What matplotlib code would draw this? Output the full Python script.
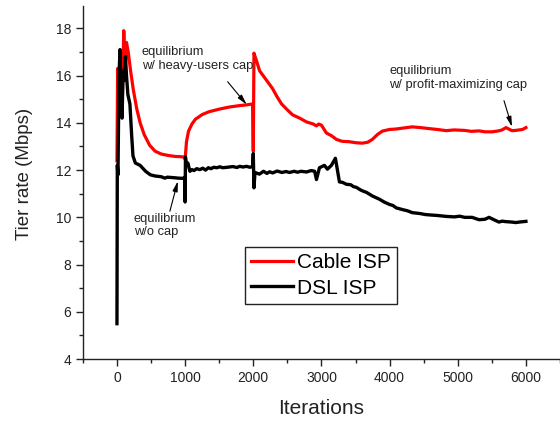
import matplotlib
matplotlib.use("Agg")
import matplotlib.pyplot as plt
from matplotlib.ticker import MultipleLocator

plt.rcParams['font.family'] = ['Liberation Sans', 'DejaVu Sans']

# ---- data ----
cable_x = [0, 10, 30, 55, 80, 100, 120, 140, 165, 200, 240, 290, 340, 400, 480, 560, 650, 750, 850, 920, 995,
           1000, 1020, 1050, 1100, 1150, 1250, 1350, 1500, 1650, 1800, 1900, 1990,
           2000, 2010, 2050, 2093, 2195, 2283, 2350, 2415, 2500, 2576, 2680, 2780, 2880, 2927, 2960, 3000, 3073,
           3150, 3220, 3300, 3410, 3500, 3600, 3680, 3747, 3820, 3893, 4000, 4098, 4200, 4332, 4450, 4600,
           4700, 4830, 4950, 5100, 5200, 5312, 5400, 5503, 5600, 5650, 5708, 5760, 5795, 5850, 5900, 5950, 6000]
cable_y = [12.4, 16.3, 15.0, 17.0, 15.2, 17.9, 16.2, 17.4, 17.0, 16.2, 15.4, 14.6, 14.0, 13.5, 13.05, 12.8, 12.68,
           12.62, 12.58, 12.57, 12.55,
           12.45, 13.2, 13.65, 13.95, 14.15, 14.35, 14.47, 14.58, 14.67, 14.73, 14.76, 14.8,
           12.8, 16.95, 16.6, 16.2, 15.8, 15.45, 15.1, 14.8, 14.55, 14.34, 14.2, 14.04, 13.95, 13.87, 13.95, 13.9, 13.57,
           13.45, 13.3, 13.22, 13.2, 13.16, 13.14, 13.18, 13.3, 13.5, 13.65, 13.72, 13.74, 13.78, 13.83, 13.8, 13.75,
           13.72, 13.67, 13.7, 13.68, 13.64, 13.66, 13.62, 13.62, 13.66, 13.7, 13.8, 13.72, 13.67, 13.68, 13.7, 13.72, 13.8]

dsl_x = [0, 5, 15, 30, 45, 60, 75, 90, 110, 125, 140, 160, 190, 215, 235, 270, 340, 420, 490, 560, 650, 700, 740,
         830, 900, 970, 995,
         1000, 1005, 1020, 1040, 1070, 1100, 1130, 1170, 1215, 1260, 1300, 1340, 1380, 1420, 1463, 1510, 1550,
         1620, 1700, 1760, 1800, 1850, 1900, 1950, 1990,
         2000, 2010, 2025, 2090, 2150, 2200, 2240, 2283, 2350, 2420, 2480, 2532, 2600, 2650, 2700, 2780, 2850,
         2900, 2927, 2971, 3044, 3088, 3146, 3205, 3264, 3310, 3366, 3430, 3470, 3512, 3580, 3620, 3659, 3750,
         3849, 3920, 3995, 4050, 4098, 4200, 4260, 4332, 4450, 4520, 4600, 4700, 4830, 4950, 5030, 5100, 5210,
         5312, 5400, 5459, 5530, 5605, 5650, 5700, 5795, 5850, 5900, 6000]
dsl_y = [5.5, 12.2, 11.8, 16.0, 17.1, 15.5, 14.2, 16.2, 15.8, 16.8, 16.0, 15.2, 14.8, 13.5, 12.6, 12.3, 12.2, 11.95,
         11.8, 11.75, 11.72, 11.66, 11.7, 11.68, 11.66, 11.65, 11.7,
         10.65, 12.55, 12.2, 12.3, 11.95, 12.02, 11.98, 12.06, 12.02, 12.08, 12.0, 12.1, 12.06, 12.12, 12.1, 12.14,
         12.1, 12.12, 12.15, 12.11, 12.16, 12.13, 12.16, 12.12, 12.15,
         12.7, 11.25, 11.9, 11.83, 11.95, 11.86, 11.93, 11.88, 11.96, 11.9, 11.94, 11.9, 11.95, 11.91, 11.95,
         11.92, 11.98, 11.95, 11.6, 12.1, 12.2, 12.04, 12.2, 12.5, 11.5, 11.48, 11.4, 11.38, 11.3, 11.27, 11.15,
         11.1, 11.06, 10.9, 10.77, 10.65, 10.55, 10.5, 10.4, 10.32, 10.28, 10.2, 10.16, 10.12, 10.1, 10.08,
         10.04, 10.02, 10.05, 10.0, 10.0, 9.9, 9.92, 10.0, 9.9, 9.8, 9.84, 9.82, 9.8, 9.78, 9.8, 9.83]

series_names = ["Cable ISP", "DSL ISP"]
series_colors = ["#ff0000", "#000000"]

x_ticks = [0, 1000, 2000, 3000, 4000, 5000, 6000]
y_ticks = [4, 6, 8, 10, 12, 14, 16, 18]

# ---- figure ----
fig = plt.figure(figsize=(5.6, 4.21), dpi=100)
ax = fig.add_axes([0.148, 0.147, 0.852, 0.839])

ax.plot(cable_x, cable_y, color=series_colors[0], lw=2.3, label=series_names[0], solid_joinstyle='round')
ax.plot(dsl_x, dsl_y, color=series_colors[1], lw=2.4, label=series_names[1], solid_joinstyle='round')

ax.set_xlim(-500, 6500)
ax.set_ylim(4, 18.95)
ax.set_xticks(x_ticks)
ax.set_yticks(y_ticks)
ax.xaxis.set_minor_locator(MultipleLocator(500))
ax.yaxis.set_minor_locator(MultipleLocator(1))

for s in ['top', 'right']:
    ax.spines[s].set_visible(False)
for s in ['left', 'bottom']:
    ax.spines[s].set_linewidth(1.0)
    ax.spines[s].set_color('#222222')

ax.tick_params(which='major', direction='out', length=5, width=1.0, labelsize=10, colors='#222222')
ax.tick_params(which='minor', direction='out', length=3, width=1.0, colors='#222222')

ax.set_xlabel("Iterations", fontsize=15, color='#222222', labelpad=10)
ax.set_ylabel("Tier rate (Mbps)", fontsize=13.5, color='#222222')
ax.yaxis.set_label_coords(-0.105, 0.525)

leg = ax.legend(loc='upper left', bbox_to_anchor=(0.34, 0.317), borderaxespad=0, fontsize=15,
                fancybox=False, edgecolor='#222222', framealpha=1, handlelength=2.0,
                handletextpad=0.2, borderpad=0.3, labelspacing=0.3)
leg.get_frame().set_linewidth(1.0)

arrow = dict(arrowstyle='-|>,head_width=0.15,head_length=0.6', color='black', lw=0.8, shrinkA=0, shrinkB=0)
ax.annotate("equilibrium\nw/ heavy-users cap", xy=(1903, 14.77), xytext=(366, 17.25),
            fontsize=9.3, color='#222222', ha='left', va='top')
ax.annotate("", xy=(1903, 14.77), xytext=(1624, 15.74), arrowprops=arrow)

ax.annotate("equilibrium\nw/o cap", xy=(893, 11.53), xytext=(249, 10.2),
            fontsize=9.3, color='#222222', ha='left', va='top')
ax.annotate("", xy=(893, 11.53), xytext=(776, 10.26), arrowprops=arrow)

ax.annotate("equilibrium\nw/ profit-maximizing cap", xy=(5795, 13.83), xytext=(3995, 16.45),
            fontsize=9.3, color='#222222', ha='left', va='top')
ax.annotate("", xy=(5795, 13.83), xytext=(5678, 14.94), arrowprops=arrow)

fig.savefig("out.png", dpi=100)
